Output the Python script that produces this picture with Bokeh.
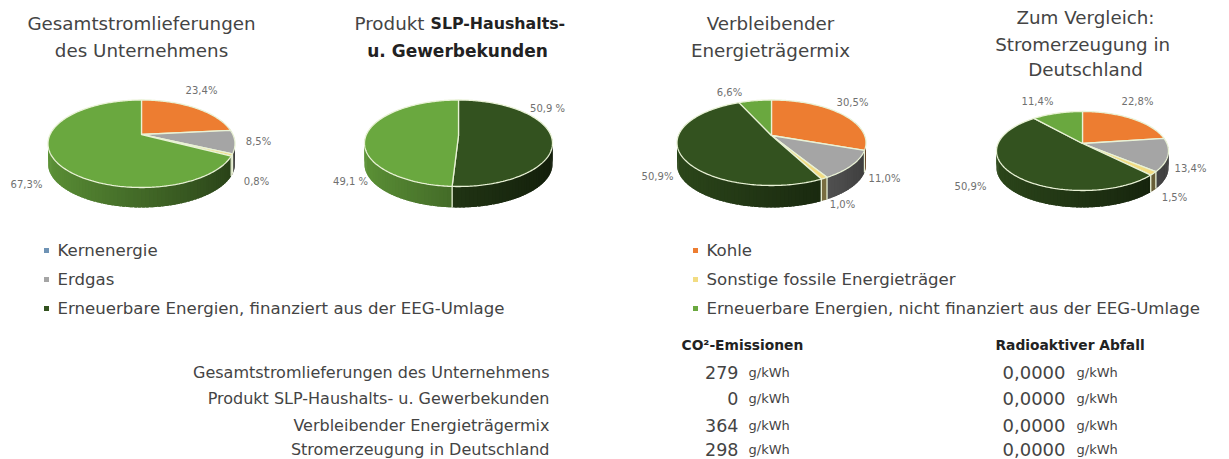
import math
from bokeh.plotting import figure
from bokeh.models import Range1d
from bokeh.core.properties import value
from bokeh.embed import file_html
from bokeh.resources import INLINE

# ---- data ----
series_names = ["Kernenergie", "Kohle", "Erdgas", "Sonstige fossile Energieträger",
                "Erneuerbare Energien, finanziert aus der EEG-Umlage",
                "Erneuerbare Energien, nicht finanziert aus der EEG-Umlage"]
gesamt = [0.0, 23.4, 8.5, 0.8, 0.0, 67.3]
produkt = [0.0, 0.0, 0.0, 0.0, 50.9, 49.1]
verbleibend = [0.0, 30.5, 11.0, 1.0, 50.9, 6.6]
deutschland = [0.0, 22.8, 13.4, 1.5, 50.9, 11.4]

row_names = ["Gesamtstromlieferungen des Unternehmens", "Produkt SLP-Haushalts- u. Gewerbekunden",
             "Verbleibender Energieträgermix", "Stromerzeugung in Deutschland"]
co2 = ["279", "0", "364", "298"]
radio = ["0,0000", "0,0000", "0,0000", "0,0000"]
unit = "g/kWh"

# ---- style and layout ----
colors = ["#6F93B5", "#ED7D31", "#A5A5A5", "#F2DC82", "#33521F", "#6AA83F"]
RIM = "#E9F2D6"
TXT = "#444444"
LBL = "#707070"
FONT = value("DejaVu Sans")
W, H = 1229, 459

p = figure(width=W, height=H, output_backend="svg", toolbar_location=None,
           x_range=Range1d(0, W), y_range=Range1d(H, 0),
           x_axis_location=None, y_axis_location=None, min_border=0)
p.grid.visible = False
p.outline_line_color = None
p.background_fill_color = "white"


def shade(c, f):
    r, g, b = int(c[1:3], 16), int(c[3:5], 16), int(c[5:7], 16)
    return "#%02x%02x%02x" % (int(r * f), int(g * f), int(b * f))


def pie3d(vals, cx, cy, rx, top, bottom, depth):
    up, dn = cy - top, bottom - cy
    k = (dn - up) / (dn + up)
    B = up * (1 + k)
    A = rx * math.sqrt(1 - k * k)

    def pt(deg):
        t = math.radians(deg)
        X, Y = math.sin(t), math.cos(t)
        w = 1 + k * Y
        return cx + A * X / w, cy - B * Y / w

    sx, sy, sc = [], [], []
    ang = 0.0
    edges = []
    for v, c in zip(vals, colors):
        if v <= 0:
            continue
        end = ang + v * 3.6
        a = ang
        while a < end - 1e-9:
            b = min(a + 2.0, end)
            mid = (a + b) / 2
            if math.cos(math.radians(mid)) < 0.35:
                # every strip reaches back under the next one, so no seams show
                back = max(ang, a - 1.5)
                arc = [pt(back + (b - back) * i / 4) for i in range(5)]
                sx.append([q[0] for q in arc] + [q[0] for q in reversed(arc)])
                sy.append([q[1] for q in arc] + [q[1] + depth for q in reversed(arc)])
                f = 0.62 - 0.26 * math.sin(math.radians(mid))
                sc.append(shade(c, f))
            a = b
        edges.append((ang, end, c))
        ang = end
    p.patches(sx, sy, fill_color=sc, line_color=None)

    xs, ys, cs = [], [], []
    for a0, a1, c in edges:
        n = max(2, int(a1 - a0) + 1)
        rim = [pt(a0 + (a1 - a0) * i / (n - 1)) for i in range(n)]
        xs.append([cx] + [q[0] for q in rim])
        ys.append([cy] + [q[1] for q in rim])
        cs.append(c)
        if math.cos(math.radians(a1)) < -0.05 and a1 < 359.9:
            x, y = pt(a1)
            p.line([x, x], [y, y + depth], line_color=RIM, line_width=1.3)
    p.patches(xs, ys, fill_color=cs, line_color=RIM, line_width=1.3)


pie3d(gesamt, 141, 134, 93.5, 99.5, 187, 20)
pie3d(produkt, 458, 135, 94, 99.5, 186, 21)
pie3d(verbleibend, 771, 135, 94.5, 99.5, 185, 22)
pie3d(deutschland, 1082, 143, 86, 111, 190, 17)


def txt(x, y, s, size, color=TXT, align="center", bold=False):
    p.text([x], [y], text=[s], text_font=FONT, text_font_size=f"{size}px",
           text_color=color, text_align=align, text_baseline="middle",
           text_font_style="bold" if bold else "normal")


# titles
T = 18.3
txt(141, 23, "Gesamtstromlieferungen", T)
txt(141, 50, "des Unternehmens", T)
txt(424, 23, "Produkt", T, align="right")
txt(430, 23, "SLP-Haushalts-", 15.8, align="left", bold=True, color="#222222")
txt(457, 50, "u. Gewerbekunden", 17, bold=True, color="#222222")
txt(770, 23, "Verbleibender", T)
txt(770, 50, "Energieträgermix", T)
txt(1085, 17, "Zum Vergleich:", T)
txt(1085, 44, "Stromerzeugung  in", T)
txt(1085, 69, "Deutschland", T)

# slice labels
labels = [
    (201, 90, "23,4%"), (258, 141, "8,5%"), (256, 181, "0,8%"), (26, 184, "67,3%"),
    (547, 108, "50,9 %"), (350, 181, "49,1 %"),
    (852, 102, "30,5%"), (884, 178, "11,0%"), (842, 204, "1,0%"), (657, 176, "50,9%"), (729, 92, "6,6%"),
    (1137, 101, "22,8%"), (1190, 168, "13,4%"), (1174, 197, "1,5%"), (970, 186, "50,9%"), (1037, 101, "11,4%"),
]
for x, y, s in labels:
    txt(x, y, s, 10, color=LBL)

# legend
leg_pos = [(46, 250), (695, 250), (46, 279), (695, 279), (46, 308), (695, 308)]
for (x, y), s, c in zip(leg_pos, series_names, colors):
    p.scatter([x], [y], marker="square", size=5, fill_color=c, line_color=None)
    txt(x + 11, y, s, 16.6, align="left")

# table
txt(681, 344, "CO²-Emissionen", 13.8, align="left", bold=True, color="#222222")
txt(995, 344, "Radioaktiver Abfall", 13.8, align="left", bold=True, color="#222222")
row_y = [372, 398, 425, 449]
for y, name, c, r in zip(row_y, row_names, co2, radio):
    txt(549, y, name, 16, align="right")
    txt(738, y, c, 17.5, align="right")
    txt(748, y, unit, 13, align="left")
    txt(1065, y, r, 18, align="right")
    txt(1076, y, unit, 13, align="left")

open("out.html", "w").write(file_html(p, INLINE))
